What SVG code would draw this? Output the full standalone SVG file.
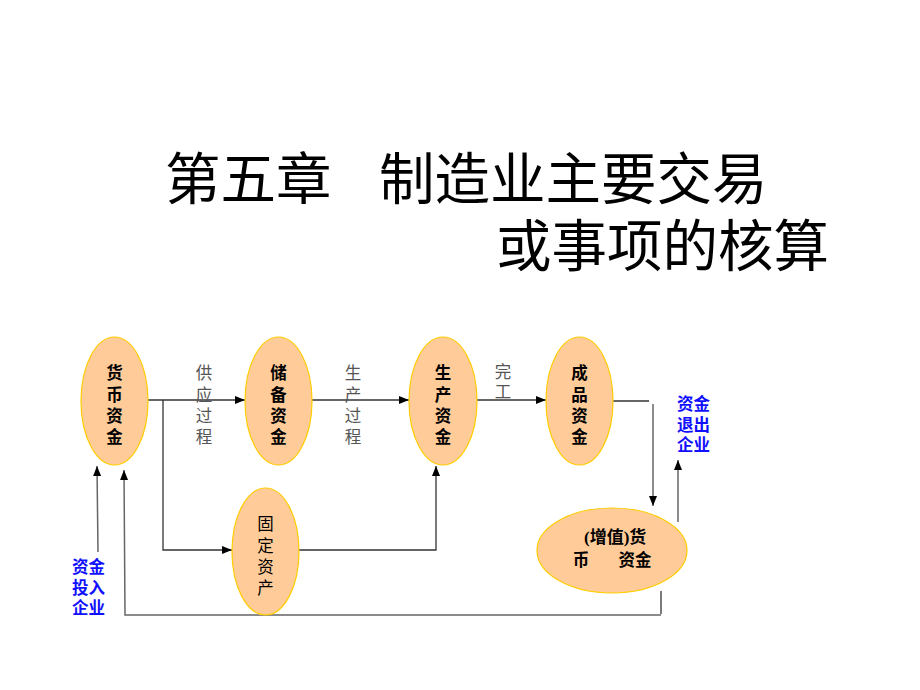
<svg xmlns="http://www.w3.org/2000/svg" width="920" height="690" viewBox="0 0 920 690">
<defs>
<style>
.title{font-family:"Noto Sans CJK SC","Noto Sans",sans-serif;font-size:55.5px;fill:#000}
.node ellipse{fill:#FFCC99;stroke:#FFCC00;stroke-width:1.2}
.nt{font-family:"Noto Sans CJK SC",sans-serif;font-size:16.5px;font-weight:bold;fill:#000;text-anchor:middle}
.nn{font-weight:normal}
.nh{font-family:"Liberation Serif","Noto Sans CJK SC",serif;font-size:17px;font-weight:bold;fill:#000}
.lbl{font-family:"Noto Sans CJK SC",sans-serif;font-size:16.5px;fill:#555;text-anchor:middle}
.blue{font-family:"Noto Sans CJK SC",sans-serif;font-size:16.5px;font-weight:bold;fill:#1010FF}
.ln{fill:none;stroke:#333;stroke-width:1.3}
.lg{fill:none;stroke:#666;stroke-width:1.5}
</style>
<marker id="ah" viewBox="0 0 10 10" refX="10" refY="5" markerWidth="10" markerHeight="10" markerUnits="userSpaceOnUse" orient="auto">
<path d="M0,1 L10,5 L0,9 Z" fill="#000"/>
</marker>
</defs>
<rect width="920" height="690" fill="#fff"/>
<g id="title">
<text class="title" x="165" y="199">第五章</text>
<text class="title" x="379" y="199">制造业主要交易</text>
<text class="title" x="496" y="266">或事项的核算</text>
</g>
<g id="connectors">
<line class="ln" x1="148" y1="400" x2="245" y2="400" marker-end="url(#ah)"/>
<polyline class="ln" points="163,400 163,550 232,550" marker-end="url(#ah)"/>
<line class="ln" x1="312" y1="400" x2="409" y2="400" marker-end="url(#ah)"/>
<line class="ln" x1="477" y1="400" x2="546" y2="400" marker-end="url(#ah)"/>
<line class="ln" x1="609" y1="401" x2="649" y2="401"/>
<line class="lg" x1="653" y1="404" x2="653" y2="506" marker-end="url(#ah)"/>
<line class="lg" x1="678" y1="522" x2="678" y2="460" marker-end="url(#ah)"/>
<polyline class="ln" points="299,550 436,550 436,466" marker-end="url(#ah)"/>
<line class="ln" x1="661" y1="591" x2="661" y2="614"/>
<polyline class="lg" points="661,615 125,615 124,470" marker-end="url(#ah)"/>
<line class="lg" x1="98" y1="552" x2="97" y2="466" marker-end="url(#ah)"/>
</g>
<g id="n1" class="node">
<ellipse cx="114.5" cy="401" rx="33.5" ry="64"/>
<text class="nt" x="114.5" y="379">货</text><text class="nt" x="114.5" y="401">币</text><text class="nt" x="114.5" y="422">资</text><text class="nt" x="114.5" y="443">金</text>
</g>
<g id="n2" class="node">
<ellipse cx="278.5" cy="401" rx="33.5" ry="64"/>
<text class="nt" x="278.5" y="379">储</text><text class="nt" x="278.5" y="401">备</text><text class="nt" x="278.5" y="422">资</text><text class="nt" x="278.5" y="443">金</text>
</g>
<g id="n3" class="node">
<ellipse cx="443" cy="401" rx="34" ry="64"/>
<text class="nt" x="443" y="379">生</text><text class="nt" x="443" y="401">产</text><text class="nt" x="443" y="422">资</text><text class="nt" x="443" y="443">金</text>
</g>
<g id="n4" class="node">
<ellipse cx="579.5" cy="401" rx="33.5" ry="64"/>
<text class="nt" x="579.5" y="379">成</text><text class="nt" x="579.5" y="401">品</text><text class="nt" x="579.5" y="422">资</text><text class="nt" x="579.5" y="443">金</text>
</g>
<g id="n5" class="node">
<ellipse cx="265.5" cy="551.5" rx="33.5" ry="63.5"/>
<text class="nt nn" x="265.5" y="530">固</text><text class="nt nn" x="265.5" y="552">定</text><text class="nt nn" x="265.5" y="573">资</text><text class="nt nn" x="265.5" y="594">产</text>
</g>
<g id="n6" class="node">
<ellipse cx="612" cy="550.5" rx="75" ry="42.5"/>
<text class="nh" x="584" y="543">(增值)货</text>
<text class="nt" x="581" y="566">币</text>
<text class="nt" x="635" y="566">资金</text>
</g>
<g id="labels">
<text class="lbl" x="204" y="379">供</text><text class="lbl" x="204" y="401">应</text><text class="lbl" x="204" y="422">过</text><text class="lbl" x="204" y="443">程</text>
<text class="lbl" x="353" y="379">生</text><text class="lbl" x="353" y="401">产</text><text class="lbl" x="353" y="422">过</text><text class="lbl" x="353" y="443">程</text>
<text class="lbl" x="503" y="378">完</text><text class="lbl" x="503" y="398">工</text>
<text class="blue" x="677" y="410">资金</text><text class="blue" x="677" y="431">退出</text><text class="blue" x="677" y="451">企业</text>
<text class="blue" x="72" y="573">资金</text><text class="blue" x="72" y="594">投入</text><text class="blue" x="72" y="614">企业</text>
</g>
</svg>
